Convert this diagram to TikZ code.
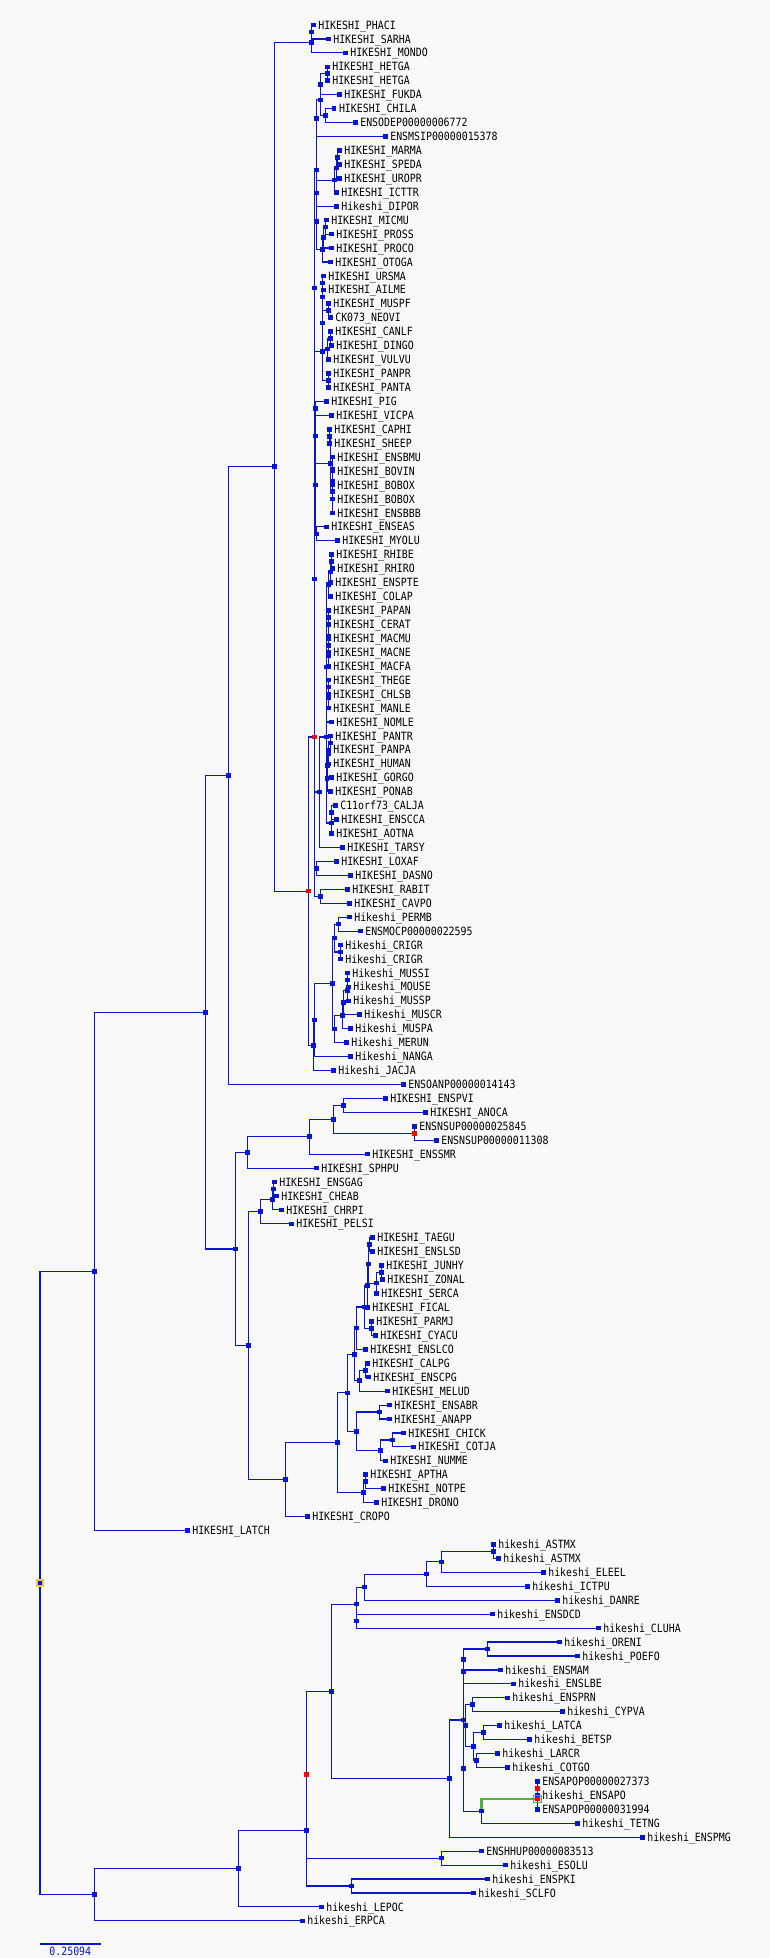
\documentclass[tikz,border=0pt]{standalone}
\usepackage{fontspec}
\usepackage{graphicx}
\usetikzlibrary{calc}
\newfontfamily\labfont{DejaVu Sans Mono}
\definecolor{treeblue}{RGB}{8,22,205}
\definecolor{treered}{RGB}{250,0,0}
\definecolor{treegreen}{RGB}{80,180,60}
\definecolor{rootyellow}{RGB}{240,200,70}
\definecolor{bgcol}{RGB}{249,249,249}
\pgfdeclarelayer{back}
\pgfdeclarelayer{edges}
\pgfsetlayers{back,edges,main}
\tikzset{
  edge/.style={draw=treeblue, line width=1.15pt},
  greenedge/.style={draw=treegreen, line width=2.7pt},
  sq/.style={rectangle, fill=treeblue, minimum size=4.6pt, inner sep=0pt, outer sep=0pt},
  redsq/.style={sq, fill=treered},
  rootsq/.style={rectangle, fill=treeblue, draw=rootyellow, line width=2.2pt, minimum size=6.6pt, inner sep=0pt},
  lab/.style={anchor=base west, inner sep=0pt, outer sep=0pt, text=black, font={\labfont\fontsize{9.9pt}{10pt}\selectfont}},
}
% leaf: name, x, row, text
\newcommand\TLeaf[4]{%
  \node[sq] (#1) at (#2,{11.06+13.94*#3}) {};
  \node[lab] (#1t) at ([xshift=5pt,yshift=-4.1pt]#1.center) {\scalebox{1}[1.15]{#4}};}
% internal node at midpoint of first and last child
\newcommand\TNode[5][sq]{%
  \coordinate (#2m) at ($(#4.center)!0.5!(#5.center)$);
  \node[#1] (#2) at (#3,0 |- #2m) {};
  \begin{pgfonlayer}{edges}\draw[edge] (#2.center) |- (#4.center) (#2.center) |- (#5.center);\end{pgfonlayer}}
% internal node at explicit y with child list
\newcommand\TNodeAt[5][sq]{%
  \node[#1] (#2) at (#3,#4) {};
  \begin{pgfonlayer}{edges}\foreach \c in {#5}{\draw[edge] (#2.center) |- (\c.center);}\end{pgfonlayer}}
\begin{document}
\begin{tikzpicture}[x=1pt,y=-1pt]
\begin{pgfonlayer}{back}\fill[bgcol] (0,0) rectangle (770,1958);\end{pgfonlayer}
\useasboundingbox (0,0) rectangle (770,1958);
% ---------------- leaves
\TLeaf{l1}{313.3}{1}{HIKESHI\_PHACI}
\TLeaf{l2}{328.3}{2}{HIKESHI\_SARHA}
\TLeaf{l3}{345.3}{3}{HIKESHI\_MONDO}
\TLeaf{l4}{327.3}{4}{HIKESHI\_HETGA}
\TLeaf{l5}{327.3}{5}{HIKESHI\_HETGA}
\TLeaf{l6}{339.3}{6}{HIKESHI\_FUKDA}
\TLeaf{l7}{334.0}{7}{HIKESHI\_CHILA}
\TLeaf{l8}{355.3}{8}{ENSODEP00000006772}
\TLeaf{l9}{385.3}{9}{ENSMSIP00000015378}
\TLeaf{l10}{339.3}{10}{HIKESHI\_MARMA}
\TLeaf{l11}{339.3}{11}{HIKESHI\_SPEDA}
\TLeaf{l12}{339.3}{12}{HIKESHI\_UROPR}
\TLeaf{l13}{336.3}{13}{HIKESHI\_ICTTR}
\TLeaf{l14}{336.3}{14}{Hikeshi\_DIPOR}
\TLeaf{l15}{326.3}{15}{HIKESHI\_MICMU}
\TLeaf{l16}{331.3}{16}{HIKESHI\_PROSS}
\TLeaf{l17}{331.3}{17}{HIKESHI\_PROCO}
\TLeaf{l18}{330.3}{18}{HIKESHI\_OTOGA}
\TLeaf{l19}{323.3}{19}{HIKESHI\_URSMA}
\TLeaf{l20}{323.3}{20}{HIKESHI\_AILME}
\TLeaf{l21}{328.3}{21}{HIKESHI\_MUSPF}
\TLeaf{l22}{330.3}{22}{CK073\_NEOVI}
\TLeaf{l23}{330.3}{23}{HIKESHI\_CANLF}
\TLeaf{l24}{331.3}{24}{HIKESHI\_DINGO}
\TLeaf{l25}{328.3}{25}{HIKESHI\_VULVU}
\TLeaf{l26}{328.3}{26}{HIKESHI\_PANPR}
\TLeaf{l27}{328.3}{27}{HIKESHI\_PANTA}
\TLeaf{l28}{326.3}{28}{HIKESHI\_PIG}
\TLeaf{l29}{331.3}{29}{HIKESHI\_VICPA}
\TLeaf{l30}{329.3}{30}{HIKESHI\_CAPHI}
\TLeaf{l31}{329.3}{31}{HIKESHI\_SHEEP}
\TLeaf{l32}{332.3}{32}{HIKESHI\_ENSBMU}
\TLeaf{l33}{332.3}{33}{HIKESHI\_BOVIN}
\TLeaf{l34}{332.3}{34}{HIKESHI\_BOBOX}
\TLeaf{l35}{332.3}{35}{HIKESHI\_BOBOX}
\TLeaf{l36}{332.3}{36}{HIKESHI\_ENSBBB}
\TLeaf{l37}{326.3}{37}{HIKESHI\_ENSEAS}
\TLeaf{l38}{337.3}{38}{HIKESHI\_MYOLU}
\TLeaf{l39}{331.3}{39}{HIKESHI\_RHIBE}
\TLeaf{l40}{332.3}{40}{HIKESHI\_RHIRO}
\TLeaf{l41}{330.3}{41}{HIKESHI\_ENSPTE}
\TLeaf{l42}{330.3}{42}{HIKESHI\_COLAP}
\TLeaf{l43}{328.3}{43}{HIKESHI\_PAPAN}
\TLeaf{l44}{328.3}{44}{HIKESHI\_CERAT}
\TLeaf{l45}{328.3}{45}{HIKESHI\_MACMU}
\TLeaf{l46}{328.3}{46}{HIKESHI\_MACNE}
\TLeaf{l47}{328.3}{47}{HIKESHI\_MACFA}
\TLeaf{l48}{328.3}{48}{HIKESHI\_THEGE}
\TLeaf{l49}{328.3}{49}{HIKESHI\_CHLSB}
\TLeaf{l50}{328.3}{50}{HIKESHI\_MANLE}
\TLeaf{l51}{331.3}{51}{HIKESHI\_NOMLE}
\TLeaf{l52}{330.3}{52}{HIKESHI\_PANTR}
\TLeaf{l53}{328.3}{53}{HIKESHI\_PANPA}
\TLeaf{l54}{328.3}{54}{HIKESHI\_HUMAN}
\TLeaf{l55}{331.3}{55}{HIKESHI\_GORGO}
\TLeaf{l56}{330.3}{56}{HIKESHI\_PONAB}
\TLeaf{l57}{335.3}{57}{C11orf73\_CALJA}
\TLeaf{l58}{336.3}{58}{HIKESHI\_ENSCCA}
\TLeaf{l59}{331.3}{59}{HIKESHI\_AOTNA}
\TLeaf{l60}{342.3}{60}{HIKESHI\_TARSY}
\TLeaf{l61}{336.3}{61}{HIKESHI\_LOXAF}
\TLeaf{l62}{350.3}{62}{HIKESHI\_DASNO}
\TLeaf{l63}{347.3}{63}{HIKESHI\_RABIT}
\TLeaf{l64}{349.3}{64}{HIKESHI\_CAVPO}
\TLeaf{l65}{349.3}{65}{Hikeshi\_PERMB}
\TLeaf{l66}{360.3}{66}{ENSMOCP00000022595}
\TLeaf{l67}{340.3}{67}{Hikeshi\_CRIGR}
\TLeaf{l68}{340.3}{68}{Hikeshi\_CRIGR}
\TLeaf{l69}{347.3}{69}{Hikeshi\_MUSSI}
\TLeaf{l70}{348.3}{70}{Hikeshi\_MOUSE}
\TLeaf{l71}{348.3}{71}{Hikeshi\_MUSSP}
\TLeaf{l72}{359.3}{72}{Hikeshi\_MUSCR}
\TLeaf{l73}{350.3}{73}{Hikeshi\_MUSPA}
\TLeaf{l74}{346.3}{74}{Hikeshi\_MERUN}
\TLeaf{l75}{350.3}{75}{Hikeshi\_NANGA}
\TLeaf{l76}{333.3}{76}{Hikeshi\_JACJA}
\TLeaf{l77}{403.3}{77}{ENSOANP00000014143}
\TLeaf{l78}{385.3}{78}{HIKESHI\_ENSPVI}
\TLeaf{l79}{425.3}{79}{HIKESHI\_ANOCA}
\TLeaf{l80}{414.3}{80}{ENSNSUP00000025845}
\TLeaf{l81}{436.3}{81}{ENSNSUP00000011308}
\TLeaf{l82}{367.3}{82}{HIKESHI\_ENSSMR}
\TLeaf{l83}{316.3}{83}{HIKESHI\_SPHPU}
\TLeaf{l84}{274.3}{84}{HIKESHI\_ENSGAG}
\TLeaf{l85}{276.3}{85}{HIKESHI\_CHEAB}
\TLeaf{l86}{281.3}{86}{HIKESHI\_CHRPI}
\TLeaf{l87}{291.3}{87}{HIKESHI\_PELSI}
\TLeaf{l88}{372.3}{88}{HIKESHI\_TAEGU}
\TLeaf{l89}{372.3}{89}{HIKESHI\_ENSLSD}
\TLeaf{l90}{381.3}{90}{HIKESHI\_JUNHY}
\TLeaf{l91}{382.3}{91}{HIKESHI\_ZONAL}
\TLeaf{l92}{376.3}{92}{HIKESHI\_SERCA}
\TLeaf{l93}{367.3}{93}{HIKESHI\_FICAL}
\TLeaf{l94}{371.3}{94}{HIKESHI\_PARMJ}
\TLeaf{l95}{375.3}{95}{HIKESHI\_CYACU}
\TLeaf{l96}{365.3}{96}{HIKESHI\_ENSLCO}
\TLeaf{l97}{367.3}{97}{HIKESHI\_CALPG}
\TLeaf{l98}{368.3}{98}{HIKESHI\_ENSCPG}
\TLeaf{l99}{387.3}{99}{HIKESHI\_MELUD}
\TLeaf{l100}{389.3}{100}{HIKESHI\_ENSABR}
\TLeaf{l101}{389.3}{101}{HIKESHI\_ANAPP}
\TLeaf{l102}{403.3}{102}{HIKESHI\_CHICK}
\TLeaf{l103}{413.3}{103}{HIKESHI\_COTJA}
\TLeaf{l104}{385.3}{104}{HIKESHI\_NUMME}
\TLeaf{l105}{365.3}{105}{HIKESHI\_APTHA}
\TLeaf{l106}{383.3}{106}{HIKESHI\_NOTPE}
\TLeaf{l107}{376.3}{107}{HIKESHI\_DRONO}
\TLeaf{l108}{307.3}{108}{HIKESHI\_CROPO}
\TLeaf{l109}{187.3}{109}{HIKESHI\_LATCH}
\TLeaf{l110}{493.3}{110}{hikeshi\_ASTMX}
\TLeaf{l111}{498.3}{111}{hikeshi\_ASTMX}
\TLeaf{l112}{543.3}{112}{hikeshi\_ELEEL}
\TLeaf{l113}{527.3}{113}{hikeshi\_ICTPU}
\TLeaf{l114}{557.3}{114}{hikeshi\_DANRE}
\TLeaf{l115}{492.3}{115}{hikeshi\_ENSDCD}
\TLeaf{l116}{598.3}{116}{hikeshi\_CLUHA}
\TLeaf{l117}{559.3}{117}{hikeshi\_ORENI}
\TLeaf{l118}{577.3}{118}{hikeshi\_POEFO}
\TLeaf{l119}{500.3}{119}{hikeshi\_ENSMAM}
\TLeaf{l120}{513.3}{120}{hikeshi\_ENSLBE}
\TLeaf{l121}{507.3}{121}{hikeshi\_ENSPRN}
\TLeaf{l122}{562.3}{122}{hikeshi\_CYPVA}
\TLeaf{l123}{499.3}{123}{hikeshi\_LATCA}
\TLeaf{l124}{529.3}{124}{hikeshi\_BETSP}
\TLeaf{l125}{497.3}{125}{hikeshi\_LARCR}
\TLeaf{l126}{507.3}{126}{hikeshi\_COTGO}
\TLeaf{l127}{537.3}{127}{ENSAPOP00000027373}
\TLeaf{l128}{537.3}{128}{hikeshi\_ENSAPO}
\TLeaf{l129}{537.3}{129}{ENSAPOP00000031994}
\TLeaf{l130}{577.3}{130}{hikeshi\_TETNG}
\TLeaf{l131}{642.3}{131}{hikeshi\_ENSPMG}
\TLeaf{l132}{481.3}{132}{ENSHHUP00000083513}
\TLeaf{l133}{505.3}{133}{hikeshi\_ESOLU}
\TLeaf{l134}{487.3}{134}{hikeshi\_ENSPKI}
\TLeaf{l135}{473.3}{135}{hikeshi\_SCLFO}
\TLeaf{l136}{321.3}{136}{hikeshi\_LEPOC}
\TLeaf{l137}{302.3}{137}{hikeshi\_ERPCA}
% ---------------- mammals
\TNode{G1}{311.3}{l1}{l2}
\TNode{G}{311.3}{G1}{l3}
\TNode{H1}{327.3}{l4}{l5}
\TNode{H2}{320.3}{H1}{l6}
\TNode{H3}{325.3}{l7}{l8}
\TNode{H4}{320.3}{H2}{H3}
\TNode{H5}{316.7}{H4}{l9}
\TNode{S1}{337.7}{l10}{l11}
\TNode{S2}{336.3}{S1}{l12}
\TNode{S3}{334.7}{S2}{l13}
\TNode{S4}{316.7}{S3}{l14}
\TNode{P1}{325.3}{l15}{l16}
\TNode{P2}{323.7}{P1}{l17}
\TNode{P3}{322.3}{P2}{l18}
\TNode{Na}{316.7}{S4}{P3}
\TNode{Nb}{316.7}{H5}{Na}
\TNode{C1}{322.3}{l19}{l20}
\TNode{C2}{328.3}{l21}{l22}
\TNode{C3}{322.3}{C1}{C2}
\TNode{D1}{330.3}{l23}{l24}
\TNode{D2}{327.3}{D1}{l25}
\TNode{C4}{322.3}{C3}{D2}
\TNode{Fc}{328.3}{l26}{l27}
\TNode{Carn}{322.3}{C4}{Fc}
\TNode{PV}{315.3}{l28}{l29}
\TNode{CS}{329.3}{l30}{l31}
\TNode{Bv1}{332.3}{l34}{l35}
\TNode{Bv2}{332.3}{l33}{Bv1}
\TNode{Bv3}{332.3}{l32}{Bv2}
\TNode{Bv4}{332.3}{Bv3}{l36}
\TNode{Bov}{330.3}{CS}{Bv4}
\TNode{Art}{315.3}{PV}{Bov}
\TNode{Bat}{316.3}{l37}{l38}
\TNode{Laur}{315.3}{Art}{Bat}
\TNodeAt{Nc}{314.3}{288}{Nb,Carn}
\TNodeAt{Nd}{314.3}{579}{Nc,Laur}
\TNode{Rh1}{331.3}{l39}{l40}
\TNode{Rh2}{330.3}{Rh1}{l41}
\TNode{Rh3}{328.3}{Rh2}{l42}
\TNode{M1}{328.3}{l43}{l44}
\TNode{M2}{328.3}{l45}{l46}
\TNode{M3}{328.3}{M2}{l47}
\TNode{M4}{328.3}{M1}{M3}
\TNode{M5}{328.3}{l48}{l49}
\TNode{M6}{328.3}{M5}{l50}
\TNode{Cerc}{326.3}{M4}{M6}
\TNode{Hm1}{330.3}{l52}{l53}
\TNode{Hm2}{328.7}{Hm1}{l54}
\TNode{Hm3}{327.7}{Hm2}{l55}
\TNode{Hm4}{327.0}{Hm3}{l56}
\TNode{Pl1}{331.3}{l57}{l58}
\TNode{Pl2}{331.3}{Pl1}{l59}
\TNodeAt{Anth}{326.3}{737}{Rh3,Cerc,l51,Hm4,Pl2}
\TNodeAt{Pm}{319.3}{792}{Anth,l60}
\TNode{AX}{316.3}{l61}{l62}
\TNode{GL}{320.3}{l63}{l64}
\TNodeAt[redsq]{R2}{314.3}{737}{Nd,Pm,AX,GL}
\TNode{Mu0}{338.3}{l65}{l66}
\TNode{Cr}{340.3}{l67}{l68}
\TNode{Mu1}{334.3}{Mu0}{Cr}
\TNode{Ms1}{347.3}{l69}{l70}
\TNode{Ms2}{347.3}{Ms1}{l71}
\TNode{Ms3}{343.3}{Ms2}{l72}
\TNode{Ms4}{342.3}{Ms3}{l73}
\TNode{Mu2}{334.3}{Ms4}{l74}
\TNode{Mur}{332.3}{Mu1}{Mu2}
\TNode{J2}{314.3}{Mur}{l75}
\TNode{J}{313.3}{J2}{l76}
\TNode[redsq]{R1}{308.3}{R2}{J}
\TNode{D}{274.3}{G}{R1}
\TNode{E}{228.3}{D}{l77}
% ---------------- sauropsids
\TNode{Sq3}{343.3}{l78}{l79}
\TNode[redsq]{Sq4}{414.3}{l80}{l81}
\TNode{Sq2}{333.3}{Sq3}{Sq4}
\TNode{Sq1}{309.3}{Sq2}{l82}
\TNode{Fa}{247.3}{Sq1}{l83}
\TNode{Tu1}{273.3}{l84}{l85}
\TNode{Tu2}{272.3}{Tu1}{l86}
\TNode{Tu}{260.3}{Tu2}{l87}
\TNode{Ta}{369.3}{l88}{l89}
\TNode{Jz}{381.3}{l90}{l91}
\TNode{Jz2}{376.3}{Jz}{l92}
\TNode{Ps1}{368.3}{Ta}{Jz2}
\TNode{Ps2}{367.3}{Ps1}{l93}
\TNode{Pc}{371.3}{l94}{l95}
\TNode{Pas}{364.3}{Ps2}{Pc}
\TNode{Neu}{356.3}{Pas}{l96}
\TNode{Cp}{365.3}{l97}{l98}
\TNode{Nel}{359.3}{Cp}{l99}
\TNode{Ne}{354.3}{Neu}{Nel}
\TNode{An}{379.3}{l100}{l101}
\TNode{Gal1}{392.3}{l102}{l103}
\TNode{Gal2}{380.3}{Gal1}{l104}
\TNode{Ga}{356.3}{An}{Gal2}
\TNode{Av2}{347.3}{Ne}{Ga}
\TNode{Pa1}{365.3}{l105}{l106}
\TNode{Pal}{363.3}{Pa1}{l107}
\TNode{Av1}{337.3}{Av2}{Pal}
\TNode{Av}{285.3}{Av1}{l108}
\TNode{Fb}{248.3}{Tu}{Av}
\TNode{F}{235.3}{Fa}{Fb}
\TNode{C}{205.3}{E}{F}
\TNode{A}{94.3}{C}{l109}
% ---------------- fishes
\TNode{As}{493.3}{l110}{l111}
\TNode{Ot3}{441.3}{As}{l112}
\TNode{Ot2}{426.3}{Ot3}{l113}
\TNode{Ot1}{364.3}{Ot2}{l114}
\TNode{Ot0}{356.3}{l115}{l116}
\TNode{Ot}{356.3}{Ot1}{Ot0}
\TNode{Or}{487.3}{l117}{l118}
\TNode{Ac1}{463.3}{Or}{l119}
\TNode{Ac2}{463.3}{Ac1}{l120}
\TNode{Pr}{472.3}{l121}{l122}
\TNode{La1}{483.3}{l123}{l124}
\TNode{La2}{476.3}{l125}{l126}
\TNode{La3}{473.3}{La1}{La2}
\TNode{Pe}{465.7}{Pr}{La3}
\TNode[redsq]{Ap1}{537.3}{l127}{l128}
\TNode[redsq]{Apo}{537.3}{Ap1}{l129}
\node[draw=treegreen, line width=0.8pt, minimum size=7.8pt, inner sep=0pt] (apobox) at (Apo.center) {};
\TNode{Tet}{481.3}{Apo}{l130}
\begin{pgfonlayer}{edges}\draw[greenedge] (Tet.center) |- (Apo.center);\end{pgfonlayer}
\TNode{Ac4}{463.3}{Pe}{Tet}
\TNode{Ac}{463.3}{Ac2}{Ac4}
\TNode{Neo}{449.3}{Ac}{l131}
\TNode{Tel}{331.3}{Ot}{Neo}
\TNode{Eso}{441.3}{l132}{l133}
\TNode[redsq]{Rd}{306.3}{Tel}{Eso}
\TNode{Os}{351.3}{l134}{l135}
\TNode{Te}{306.3}{Rd}{Os}
\TNode{B1}{238.3}{Te}{l136}
\TNode{B}{94.3}{B1}{l137}
\TNode[rootsq]{Root}{40}{A}{B}
% ---------------- scale bar
\coordinate (sb1) at (40,1943.7);
\coordinate (sb2) at (100.7,1943.7);
\draw[treeblue, line width=2pt] (sb1) -- (sb2);
\node[lab, anchor=base, text=treeblue] (sbt) at (70.3,1955.6) {\scalebox{1}[1.15]{0.25094}};
\end{tikzpicture}
\end{document}
